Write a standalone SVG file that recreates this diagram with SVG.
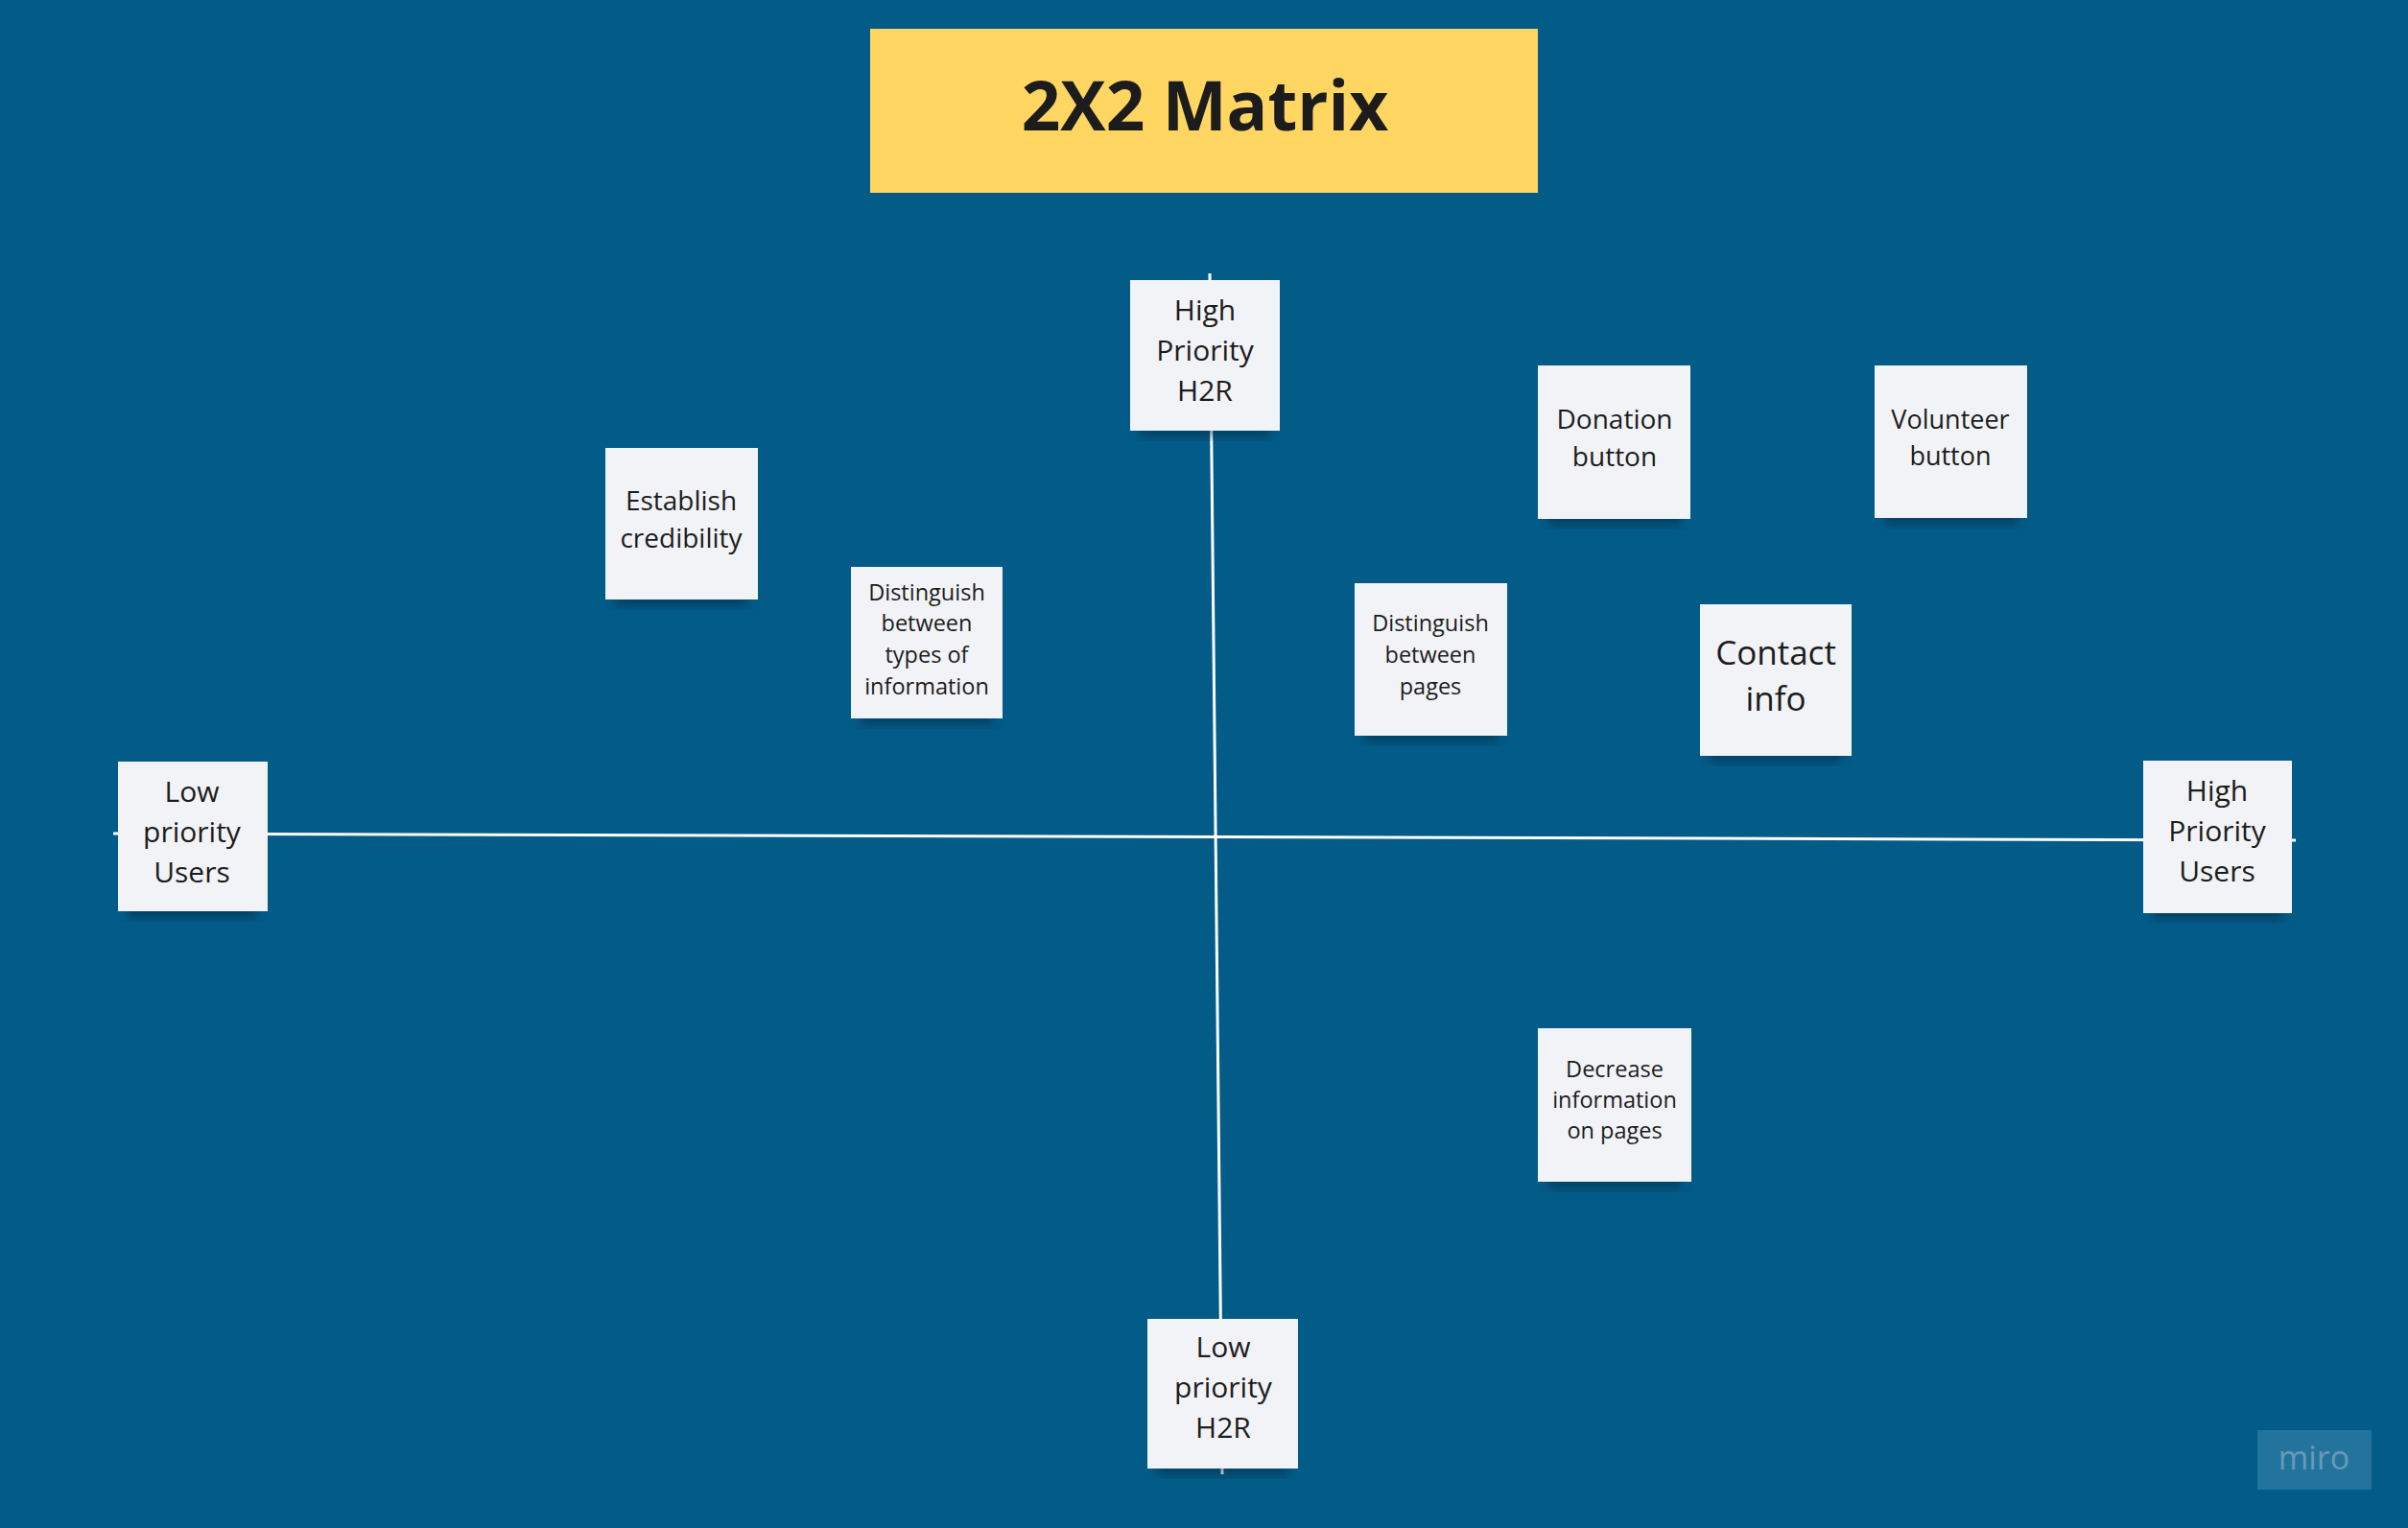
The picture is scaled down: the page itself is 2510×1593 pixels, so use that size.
<svg xmlns="http://www.w3.org/2000/svg" width="2510" height="1593" viewBox="0 0 2510 1593">
  <style>
    .note { fill: #f2f3f6; }
    .shadow { fill: #00253a; opacity: 0.45; filter: url(#soft); }
    .lbl { font-family: "Open Sans", "Noto Sans", "Liberation Sans", sans-serif; fill: #1c1c1c; text-anchor: middle; }
    .axis { stroke: #ffffff; stroke-width: 3; fill: none; }
  </style>
  <defs>
    <filter id="soft" x="-20%" y="-20%" width="140%" height="140%">
      <feGaussianBlur stdDeviation="5"/>
    </filter>
    <linearGradient id="paper" x1="0" y1="0" x2="0" y2="1">
      <stop offset="0" stop-color="#eceef1"/>
      <stop offset="0.25" stop-color="#f2f3f6"/>
      <stop offset="1" stop-color="#f4f5f8"/>
    </linearGradient>
  </defs>

  <!-- board -->
  <rect x="0" y="0" width="2510" height="1593" fill="#035b88"/>

  <!-- title -->
  <g id="title">
    <rect x="907" y="30" width="696" height="171" fill="#ffd662"/>
    <text x="1256" y="136" font-family="'Open Sans', 'Liberation Sans', sans-serif" font-weight="700" font-size="71" fill="#1c1c1c" text-anchor="middle">2X2 Matrix</text>
  </g>

  <!-- axes -->
  <g id="connectors">
    <line class="axis" x1="118" y1="869" x2="2393" y2="876"/>
    <line class="axis" x1="1261" y1="285" x2="1274" y2="1537"/>
  </g>

  <!-- sticky notes -->
  <g id="high-priority-h2r">
    <rect class="shadow" x="1188" y="440" width="136" height="16"/>
    <rect class="note" fill="url(#paper)" x="1178" y="292" width="156" height="157"/>
    <text class="lbl" font-size="30"><tspan x="1256" y="334">High</tspan><tspan x="1256" y="376">Priority</tspan><tspan x="1256" y="418">H2R</tspan></text>
  </g>

  <g id="low-priority-h2r">
    <rect class="shadow" x="1206" y="1522" width="137" height="16"/>
    <rect class="note" fill="url(#paper)" x="1196" y="1375" width="157" height="156"/>
    <text class="lbl" font-size="30"><tspan x="1275" y="1415">Low</tspan><tspan x="1275" y="1457">priority</tspan><tspan x="1275" y="1499">H2R</tspan></text>
  </g>

  <g id="low-priority-users">
    <rect class="shadow" x="133" y="941" width="135" height="16"/>
    <rect class="note" fill="url(#paper)" x="123" y="794" width="156" height="156"/>
    <text class="lbl" font-size="30"><tspan x="200" y="836">Low</tspan><tspan x="200" y="878">priority</tspan><tspan x="200" y="920">Users</tspan></text>
  </g>

  <g id="high-priority-users">
    <rect class="shadow" x="2244" y="943" width="135" height="16"/>
    <rect class="note" fill="url(#paper)" x="2234" y="793" width="155" height="159"/>
    <text class="lbl" font-size="30"><tspan x="2311" y="835">High</tspan><tspan x="2311" y="877">Priority</tspan><tspan x="2311" y="919">Users</tspan></text>
  </g>

  <g id="establish-credibility">
    <rect class="shadow" x="641" y="616" width="139" height="16"/>
    <rect class="note" fill="url(#paper)" x="631" y="467" width="159" height="158"/>
    <text class="lbl" font-size="28"><tspan x="710" y="532">Establish</tspan><tspan x="710" y="571">credibility</tspan></text>
  </g>

  <g id="distinguish-types">
    <rect class="shadow" x="897" y="740" width="138" height="16"/>
    <rect class="note" fill="url(#paper)" x="887" y="591" width="158" height="158"/>
    <text class="lbl" font-size="23.5"><tspan x="966" y="626">Distinguish</tspan><tspan x="966" y="658">between</tspan><tspan x="966" y="691">types of</tspan><tspan x="966" y="724">information</tspan></text>
  </g>

  <g id="distinguish-pages">
    <rect class="shadow" x="1422" y="758" width="139" height="16"/>
    <rect class="note" fill="url(#paper)" x="1412" y="608" width="159" height="159"/>
    <text class="lbl" font-size="23.5"><tspan x="1491" y="658">Distinguish</tspan><tspan x="1491" y="691">between</tspan><tspan x="1491" y="724">pages</tspan></text>
  </g>

  <g id="donation-button">
    <rect class="shadow" x="1613" y="532" width="139" height="16"/>
    <rect class="note" fill="url(#paper)" x="1603" y="381" width="159" height="160"/>
    <text class="lbl" font-size="28"><tspan x="1683" y="447">Donation</tspan><tspan x="1683" y="486">button</tspan></text>
  </g>

  <g id="volunteer-button">
    <rect class="shadow" x="1964" y="531" width="139" height="16"/>
    <rect class="note" fill="url(#paper)" x="1954" y="381" width="159" height="159"/>
    <text class="lbl" font-size="27"><tspan x="2033" y="447">Volunteer</tspan><tspan x="2033" y="485">button</tspan></text>
  </g>

  <g id="contact-info">
    <rect class="shadow" x="1782" y="779" width="138" height="16"/>
    <rect class="note" fill="url(#paper)" x="1772" y="630" width="158" height="158"/>
    <text class="lbl" font-size="35"><tspan x="1851" y="693">Contact</tspan><tspan x="1851" y="741">info</tspan></text>
  </g>

  <g id="decrease-information">
    <rect class="shadow" x="1613" y="1223" width="140" height="16"/>
    <rect class="note" fill="url(#paper)" x="1603" y="1072" width="160" height="160"/>
    <text class="lbl" font-size="23.5"><tspan x="1683" y="1123">Decrease</tspan><tspan x="1683" y="1155">information</tspan><tspan x="1683" y="1187">on pages</tspan></text>
  </g>

  <!-- board watermark -->
  <g id="watermark">
    <rect x="2353" y="1491" width="119" height="62" fill="#2c7aa3" opacity="0.8"/>
    <text x="2412" y="1532" font-family="'Open Sans', 'Liberation Sans', sans-serif" font-size="34" fill="#6a99ba" text-anchor="middle">miro</text>
  </g>
</svg>
